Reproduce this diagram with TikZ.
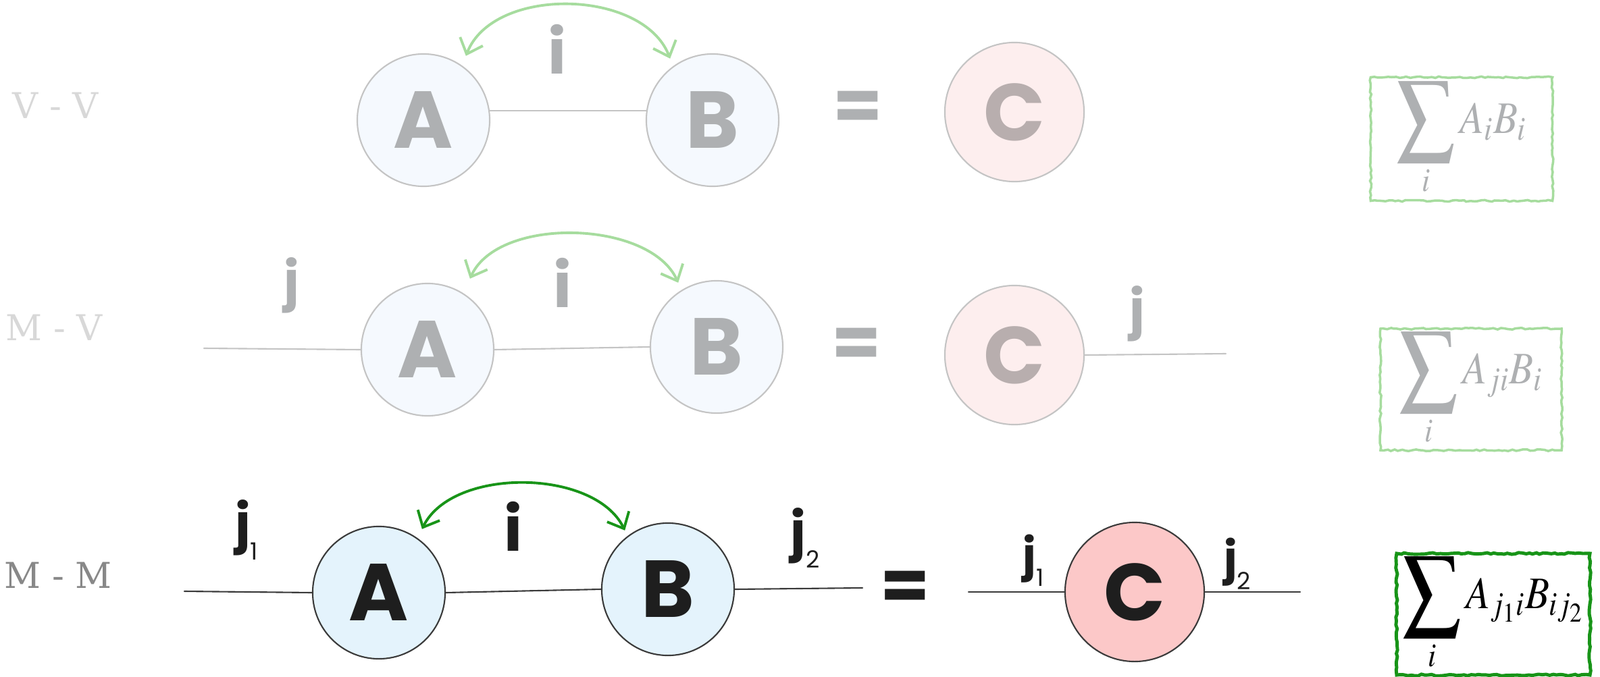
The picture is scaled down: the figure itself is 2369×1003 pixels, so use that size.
\documentclass[tikz,border=0pt]{standalone}
\usepackage{mathptmx}
\usepackage{fontspec}
\newfontfamily\handfont{Poppins}
\newfontfamily\rowfont{DejaVu Serif}
\usepackage{xcolor}
\definecolor{tnblue}{HTML}{E4F3FC}
\definecolor{tnred}{HTML}{FCC8C8}
\definecolor{tnedge}{HTML}{3A3A3A}
\definecolor{tnink}{HTML}{1E1E1E}
\definecolor{fdblue}{HTML}{F5F9FE}
\definecolor{fdred}{HTML}{FDEEEE}
\definecolor{fdedge}{HTML}{C4C4C4}
\definecolor{fdink}{HTML}{AEB0B2}
\definecolor{fdinkc}{HTML}{B8AEAE}
\definecolor{sumgreen}{HTML}{189418}
\definecolor{sumgreenfd}{HTML}{A6DC9E}
\definecolor{lblgray}{HTML}{888888}
\definecolor{lblfd}{HTML}{D8D8D8}
\usepackage{tikz}
\usetikzlibrary{arrows.meta, decorations.pathmorphing}
\newcommand{\handbig}{\handfont\bfseries\fontsize{34}{36}\selectfont}
\newcommand{\handidx}{\handfont\bfseries\fontsize{26}{28}\selectfont}
\newcommand{\handj}{\handfont\bfseries\fontsize{22}{24}\selectfont}
\newcommand{\subnum}[1]{\raisebox{-0.35em}{\mdseries\fontsize{10}{10}\selectfont #1}}
\newcommand{\bigsum}{\mathop{\vcenter{\hbox{\scalebox{1.45}{$\displaystyle\sum$}}}}\limits}
\newcommand{\sumtext}[1]{\fontsize{19}{24}\selectfont\scalebox{0.88}[1]{$\displaystyle #1$}}

\begin{document}
\begin{tikzpicture}[x=0.01cm, y=-0.01cm,
  tensor/.style={circle, inner sep=0pt, minimum size=1.96cm, line width=0.6pt, font=\handbig},
  tensorc/.style={tensor, minimum size=2.06cm},
  idx/.style={inner sep=0pt, font=\handidx},
  jidx/.style={inner sep=0pt, font=\handj},
  eqsign/.style={inner sep=0pt, font=\handfont\bfseries\fontsize{30}{30}\selectfont},
  rowlbl/.style={inner sep=0pt, font=\rowfont\fontsize{15}{15}\selectfont},
  leg/.style={line width=0.6pt, line cap=round},
  contract/.style={line width=1.1pt, line cap=round, {Straight Barb[length=2mm, width=3.6mm]}-{Straight Barb[length=2mm, width=3.6mm]}},
  sumbox/.style={draw, inner sep=0pt, decorate, decoration={random steps, segment length=1.5pt, amplitude=0.35pt}},
]
\fill[white] (0,0) rectangle (2369,1003);
\useasboundingbox (0,0) rectangle (2369,1003);

% ===== ROW 1: V - V =====
\node[rowlbl, text=lblfd] (lblVV) at (82,156) {V - V};
\node[tensor, fill=fdblue, draw=fdedge, text=fdink] (A1) at (627,178) {A};
\node[tensor, fill=fdblue, draw=fdedge, text=fdink] (B1) at (1055,178) {B};
\node[eqsign, text=fdink] (eq1) at (1270,164) {=};
\node[tensorc, fill=fdred, draw=fdedge, text=fdinkc] (C1) at (1502,166) {C};
\node[idx, text=fdink] (i1) at (825,73) {i};
\draw[leg, fdedge] (A1.8) -- (B1.172);
\draw[contract, sumgreenfd] ([shift={(6,-14)}]A1.55) .. controls +(40,-104) and +(-40,-104) .. ([shift={(-6,-10)}]B1.125);
\node[sumbox, sumgreenfd, line width=1pt, text=fdink, minimum width=2.69cm, minimum height=1.83cm] (S1) at (2164,206)
  {\sumtext{\bigsum_i A_iB_i}};

% ===== ROW 2: M - V =====
\node[rowlbl, text=lblfd] (lblMV) at (80,485) {M - V};
\coordinate (L2) at (302,516);
\coordinate (R2) at (1815,524);
\node[tensor, fill=fdblue, draw=fdedge, text=fdink] (A2) at (633,518) {A};
\node[tensor, fill=fdblue, draw=fdedge, text=fdink] (B2) at (1061,514) {B};
\node[eqsign, text=fdink] (eq2) at (1268,515) {=};
\node[tensorc, fill=fdred, draw=fdedge, text=fdinkc] (C2) at (1502,526) {C};
\node[jidx, text=fdink] (j2) at (432,423) {j};
\node[idx, text=fdink] (i2) at (833,419) {i};
\node[jidx, text=fdink] (jc2) at (1684,465) {j};
\draw[leg, fdedge] (L2) -- (A2.west);
\draw[leg, fdedge] (A2.east) -- (B2.west);
\draw[leg, fdedge] (C2.east) -- (R2);
\draw[contract, sumgreenfd] ([shift={(6,-24)}]A2.55) .. controls +(42,-93) and +(-42,-93) .. ([shift={(0,-14)}]B2.125);
\node[sumbox, sumgreenfd, line width=1pt, text=fdink, minimum width=2.68cm, minimum height=1.80cm] (S2) at (2178,577)
  {\sumtext{\bigsum_i A_{ji}B_i}};

% ===== ROW 3: M - M =====
\node[rowlbl, text=lblgray] (lblMM) at (86,852) {M - M};
\coordinate (L3) at (273,876);
\coordinate (R3) at (1277,871);
\coordinate (L3c) at (1434,877);
\coordinate (R3c) at (1925,877);
\node[tensor, fill=tnblue, draw=tnedge, text=tnink] (A3) at (561,878) {A};
\node[tensor, fill=tnblue, draw=tnedge, text=tnink] (B3) at (989,873) {B};
\node[eqsign, text=tnink] (eq3) at (1340,875) {=};
\node[tensorc, fill=tnred, draw=tnedge, text=tnink] (C3) at (1680,877) {C};
\node[jidx, text=tnink] (j13) at (365,785) {j\subnum{1}};
\node[idx, text=tnink] (i3) at (760,780) {i};
\node[jidx, text=tnink] (j23) at (1192,797) {j\subnum{2}};
\node[jidx, text=tnink, font=\handfont\bfseries\fontsize{19}{20}\selectfont] (j1c3) at (1530,830) {j\subnum{1}};
\node[jidx, text=tnink, font=\handfont\bfseries\fontsize{19}{20}\selectfont] (j2c3) at (1832,835) {j\subnum{2}};
\draw[leg, tnedge] (L3) -- (A3.west);
\draw[leg, tnedge] (A3.east) -- (B3.west);
\draw[leg, tnedge] (B3.east) -- (R3);
\draw[leg, tnedge] (L3c) -- (C3.west);
\draw[leg, tnedge] (C3.east) -- (R3c);
\draw[contract, sumgreen] ([shift={(7,-13)}]A3.55) .. controls +(45,-92) and +(-45,-92) .. ([shift={(-7,-6)}]B3.125);
\node[sumbox, sumgreen, line width=1.4pt, text=black, minimum width=2.86cm, minimum height=1.80cm] (S3) at (2211,910)
  {\sumtext{\bigsum_i A_{j_1i}B_{ij_2}}};

\end{tikzpicture}
\end{document}
